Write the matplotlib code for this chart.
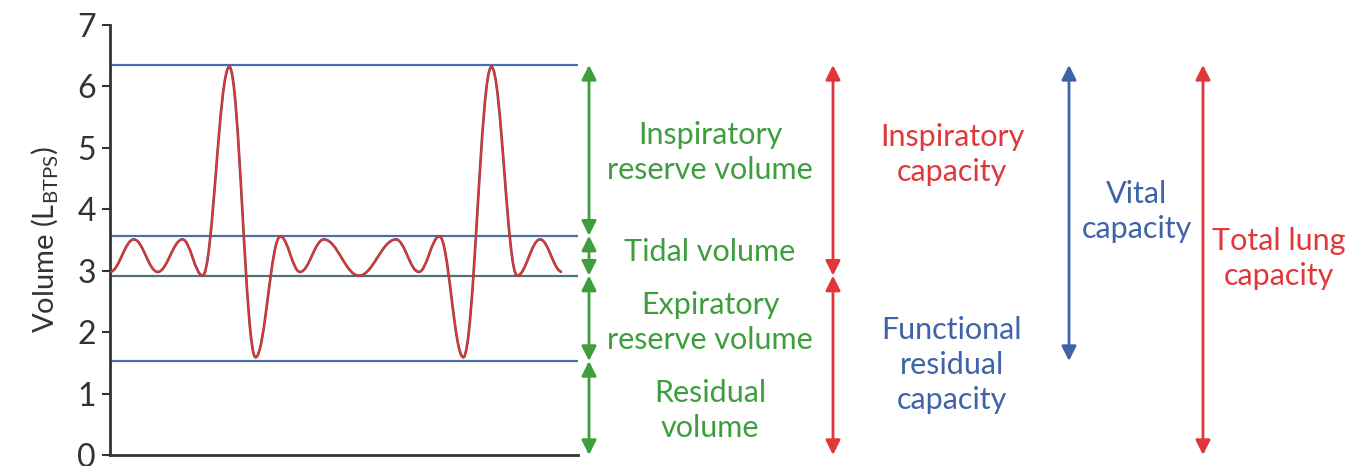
import numpy as np
import matplotlib.pyplot as plt
from matplotlib.path import Path
from matplotlib.patches import PathPatch

plt.rcParams['font.family'] = ['Lato', 'DejaVu Sans']

# spirometer trace: turning points (time on 0..100 axis, volume in L)
trace_t = [0, 5.1, 10.2, 15.5, 19.8, 25.5, 31.1, 36.4, 40.6, 45.7, 53.2,
           61.1, 66.0, 70.4, 75.5, 81.5, 87.0, 91.9, 96.6]
trace_v = [2.98, 3.51, 2.98, 3.51, 2.92, 6.32, 1.59, 3.56, 2.98, 3.51, 2.92,
           3.51, 2.98, 3.56, 1.59, 6.32, 2.92, 3.51, 2.98]

# reference levels
levels = [6.35, 3.57, 2.92, 1.53]
level_colors = ['#4a6fb0', '#4a6fb0', '#52707e', '#4a6fb0']

GREEN = '#3e9e3e'
RED = '#e0383a'
BLUE = '#3f63a8'
FS = 22

# volumes (green) and capacities
volume_spans = [(6.35, 3.57), (3.57, 2.92), (2.92, 1.53), (1.53, 0.0)]
volume_labels = ['Inspiratory\nreserve volume', 'Tidal volume',
                 'Expiratory\nreserve volume', 'Residual\nvolume']
volume_label_y = [4.92, 3.31, 2.16, 0.73]

fig = plt.figure(figsize=(13.5, 4.66), dpi=100)
W, H = 1350, 466
ax = fig.add_axes([110 / W, 11 / H, (578 - 110) / W, 430 / H])
ax.set_xlim(0, 100)
ax.set_ylim(0, 7)

for lv, c in zip(levels, level_colors):
    ax.axhline(lv, color=c, lw=1.6, zorder=1)

# smooth curve through turning points with flat tangents
verts = [(trace_t[0], trace_v[0])]
codes = [Path.MOVETO]
for i in range(len(trace_t) - 1):
    x0, y0, x1, y1 = trace_t[i], trace_v[i], trace_t[i + 1], trace_v[i + 1]
    dx = x1 - x0
    verts += [(x0 + 0.38 * dx, y0), (x1 - 0.38 * dx, y1), (x1, y1)]
    codes += [Path.CURVE4] * 3
ax.add_patch(PathPatch(Path(verts, codes), fill=False, edgecolor='#8a3a3a',
                       lw=1.9, zorder=2))
ax.add_patch(PathPatch(Path(verts, codes), fill=False, edgecolor=RED,
                       lw=1.1, zorder=3))

for s in ['top', 'right']:
    ax.spines[s].set_visible(False)
for s in ['left', 'bottom']:
    ax.spines[s].set_color('#333333')
    ax.spines[s].set_linewidth(2)
ax.set_xticks([])
ax.set_yticks(range(8))
ax.tick_params(axis='y', labelsize=23, colors='#333333', length=6, width=1.5,
               pad=4)
ax.set_ylabel('Volume (L$_{\\mathregular{BTPS}}$)', fontsize=21, color='#333333',
              labelpad=12)

# overlay for annotation arrows in pixel x, volume y
ov = fig.add_axes([0, 11 / H, 1, 430 / H])
ov.set_xlim(0, W)
ov.set_ylim(0, 7)
ov.axis('off')


def arrow(x, top, bottom, color):
    ov.annotate('', xy=(x, bottom), xytext=(x, top),
                arrowprops=dict(arrowstyle='<|-|>', color=color, lw=2,
                                mutation_scale=22, shrinkA=0, shrinkB=0))


for (top, bot), lab, ly in zip(volume_spans, volume_labels, volume_label_y):
    arrow(589, top, bot, GREEN)
    ov.text(710, ly, lab, color=GREEN, fontsize=FS, ha='center', va='center',
            linespacing=1.3)

arrow(833, 6.35, 2.92, RED)
arrow(833, 2.92, 0.0, RED)
ov.text(952, 4.89, 'Inspiratory\ncapacity', color=RED, fontsize=FS,
        ha='center', va='center', linespacing=1.3)
ov.text(952, 1.47, 'Functional\nresidual\ncapacity', color=BLUE, fontsize=FS,
        ha='center', va='center', linespacing=1.3)

arrow(1069, 6.35, 1.53, BLUE)
ov.text(1137, 3.96, 'Vital\ncapacity', color=BLUE, fontsize=FS,
        ha='center', va='center', linespacing=1.3)

arrow(1203, 6.35, 0.0, RED)
ov.text(1279, 3.2, 'Total lung\ncapacity', color=RED, fontsize=FS,
        ha='center', va='center', linespacing=1.3)

fig.savefig('out.png', dpi=100)
